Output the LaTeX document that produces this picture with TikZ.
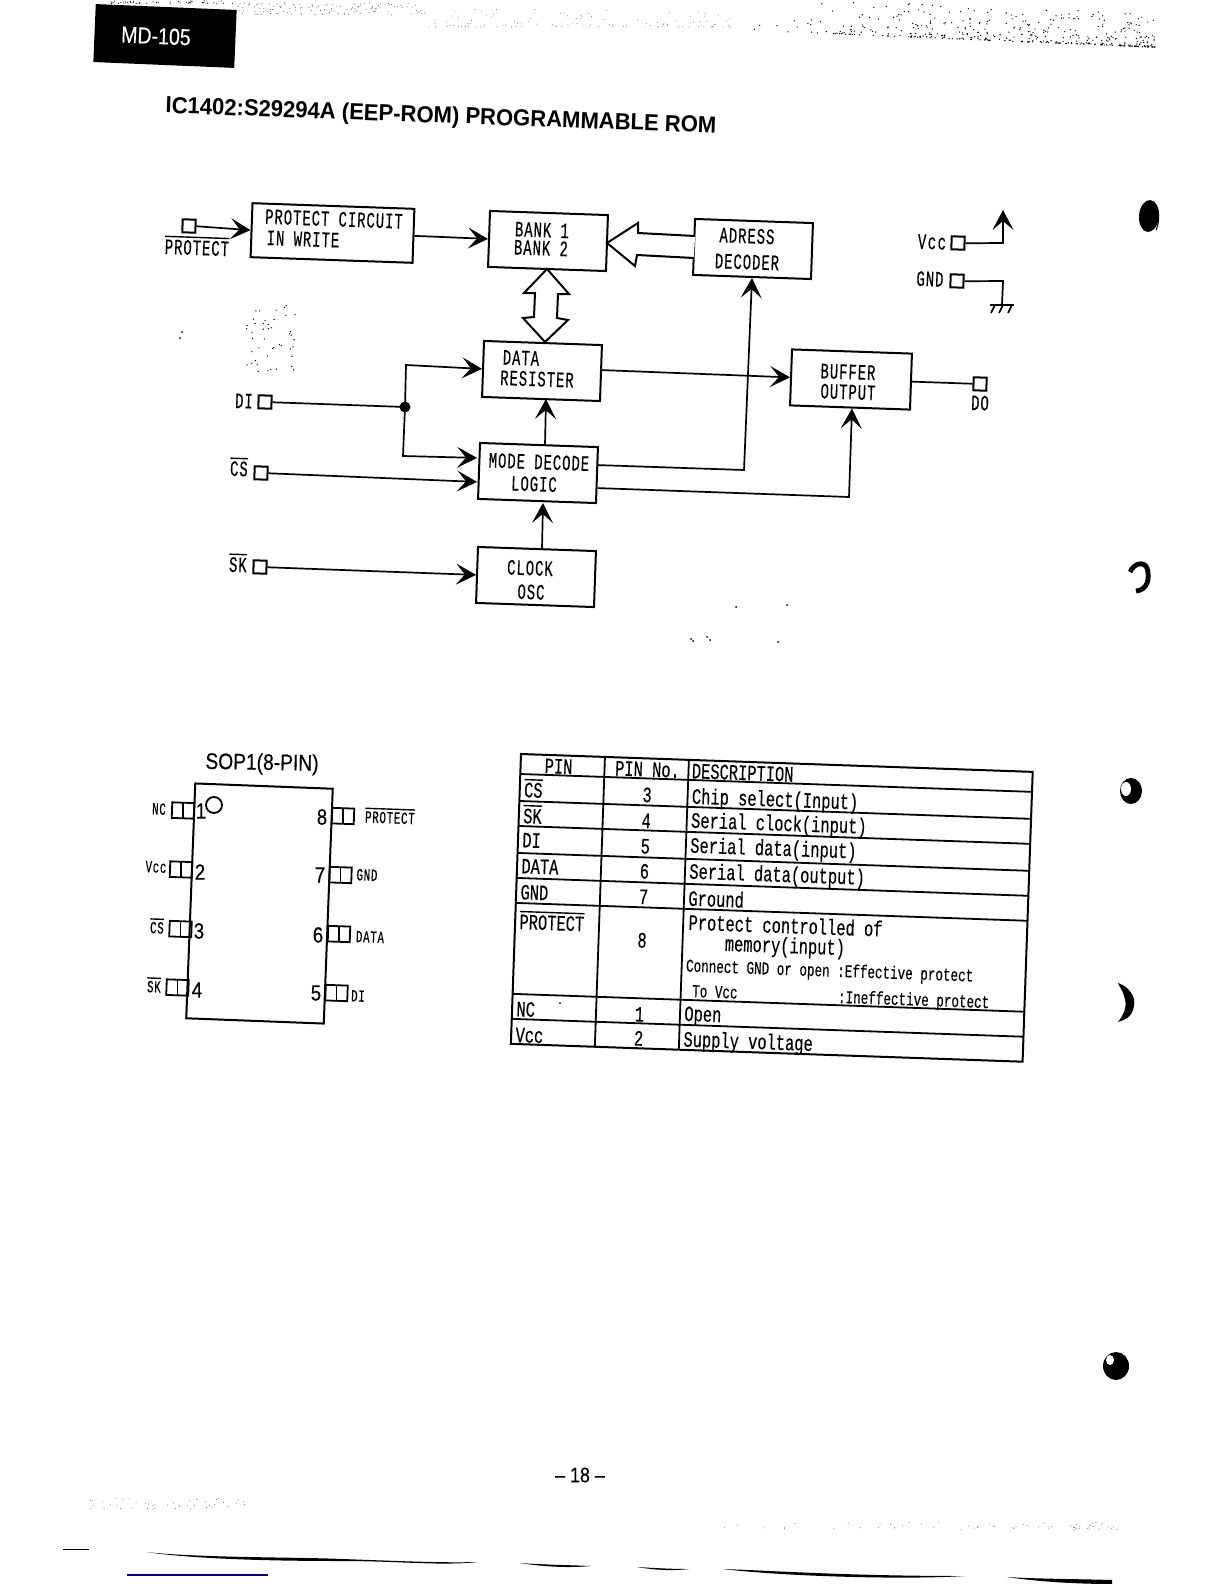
\documentclass[tikz,border=0pt]{standalone}
\usepackage{fontspec}
\usetikzlibrary{arrows.meta,calc}
\setmainfont{Liberation Sans}
\newfontfamily\mono[FakeStretch=0.7,FakeBold=0.25]{Liberation Mono}
\newfontfamily\monob[FakeStretch=0.63,LetterSpace=4.5,FakeBold=0.3]{Liberation Mono}
\newfontfamily\arialn[FakeStretch=0.85,FakeBold=0.35]{Liberation Sans}
\newfontfamily\arialb[FakeStretch=0.95]{Liberation Sans Bold}
\newcommand{\ovl}[1]{\vbox{\hrule height .7pt\kern 1.1pt\hbox{#1}}}
\tikzset{
  blockbox/.style={draw,line width=1pt,rotate=-2,minimum width=59pt,minimum height=28pt,inner sep=0pt},
  lbl/.style={font=\monob\fontsize{11}{12}\selectfont,inner sep=0pt,rotate=-2},
  smalllbl/.style={font=\monob\fontsize{8.5}{10}\selectfont,inner sep=0pt,rotate=-2},
  pinsq/.style={draw,line width=1pt,minimum size=6.5pt,inner sep=0pt,rotate=-2},
  ar/.style={-{Stealth[length=10pt,width=10.5pt,inset=4.5pt]},line width=.85pt},
  wire/.style={line width=.85pt},
  sopin/.style={draw,line width=.9pt,minimum width=11pt,minimum height=7.8pt,inner sep=0pt,rotate=-2,
    path picture={\draw[line width=.9pt] (path picture bounding box.north) -- (path picture bounding box.south);}},
  sonum/.style={font=\arialn\fontsize{11}{12}\selectfont,inner sep=0pt},
  tt/.style={font=\mono\fontsize{11}{12}\selectfont,inner sep=0pt,transform shape},
  tts/.style={font=\mono\fontsize{9}{10}\selectfont,inner sep=0pt,transform shape},
  grid/.style={line width=.9pt},
  streak/.style={fill=black,draw=none},
}
\begin{document}
\begin{tikzpicture}[x=0.5pt,y=-0.5pt]
\path[use as bounding box,fill=white] (0,0) rectangle (1224,1584);

% header
\node[fill=black,rotate=-2.4,minimum width=70.5pt,minimum height=29pt,inner sep=0pt] (tab) at (165,36) {};
\node[text=white,font=\arialn\fontsize{11.5}{12}\selectfont,rotate=-2.4,inner sep=0pt] (tabtxt) at (156,36) {MD-105};
\node[font=\arialb\fontsize{11.6}{13}\selectfont,rotate=-2.1,inner sep=0pt] (title) at (441,117) {IC1402:S29294A (EEP-ROM) PROGRAMMABLE ROM};

% blocks
\node[blockbox,minimum width=81pt,minimum height=27pt] (prot) at (332.5,233) {};
\node[blockbox] (bank) at (548,241) {};
\node[blockbox] (data) at (542,371) {};
\node[blockbox] (mode) at (538,473) {};
\node[blockbox] (clock) at (536,577) {};
\node[blockbox] (addr) at (753,249) {};
\node[blockbox,minimum width=60pt] (buf) at (851,379.5) {};

\node[lbl] (t1) at (334,219) {PROTECT CIRCUIT};
\node[lbl] (t2) at (303,239) {IN WRITE};
\node[lbl] (t3) at (542,230) {BANK 1};
\node[lbl] (t4) at (541,248) {BANK 2};
\node[lbl] (t5) at (521,358) {DATA};
\node[lbl] (t6) at (537,379) {RESISTER};
\node[lbl] (t7) at (539,462) {MODE DECODE};
\node[lbl] (t8) at (534,484) {LOGIC};
\node[lbl] (t9) at (530,568) {CLOCK};
\node[lbl] (t10) at (531,592) {OSC};
\node[lbl] (t11) at (747,236) {ADRESS};
\node[lbl] (t12) at (747,262) {DECODER};
\node[lbl] (t13) at (848,372) {BUFFER};
\node[lbl] (t14) at (848,392) {OUTPUT};

% pins
\node[pinsq] (pprot) at (189,226) {};
\node[pinsq] (pdi) at (265,402) {};
\node[pinsq] (pcs) at (261,473) {};
\node[pinsq] (psk) at (260,567) {};
\node[pinsq] (pvcc) at (958,243) {};
\node[pinsq] (pgnd) at (957,281) {};
\node[pinsq] (pdo) at (980,384) {};
\node[lbl] (lprot) at (197,246) {\ovl{PROTECT}};
\node[lbl] (ldi) at (244,401) {DI};
\node[lbl] (lcs) at (239,467) {\ovl{CS}};
\node[lbl] (lsk) at (238,563) {\ovl{SK}};
\node[lbl] (lvcc) at (932,242) {V\kern.8pt c\kern.8pt c};
\node[lbl] (lgnd) at (930,279) {GND};
\node[lbl] (ldo) at (980,403) {DO};

% connectors
\draw[ar] (pprot.east) -- (prot.west);
\draw[ar] (prot.east) -- (bank.west);
\fill (405,407) circle[radius=5.5] coordinate (dot);
\coordinate (dup) at (406,365);
\coordinate (ddn) at (403,456);
\draw[wire] (pdi.east) -- (dot);
\draw[ar] (dot) -- (dup) -- (data.west);
\draw[ar] (dot) -- (ddn) -- ($(mode.west)+(-1,-13)$);
\draw[ar] (pcs.east) -- ($(mode.west)+(-1,11)$);
\draw[ar] (psk.east) -- (clock.west);
\draw[ar] ($(clock.north)+(5,0)$) -- ($(mode.south)+(6,1)$);
\draw[ar] ($(mode.north)+(6,0)$) -- ($(data.south)+(5,-1)$);
\draw[ar] ($(data.east)+(0,-3)$) -- (buf.west);
\coordinate (ca) at (744,470);
\coordinate (cb) at (849,497);
\draw[ar] ($(mode.east)+(0,-10)$) -- (ca) -- (addr.south);
\draw[ar] ($(mode.east)+(0,13)$) -- (cb) -- ($(buf.south)+(2,0)$);
\draw[wire] (buf.east) -- (pdo.west);
\coordinate (vc) at (1003,243);
\coordinate (vt) at (1003,210);
\draw[ar] (pvcc.east) -- (vc) -- (vt);
\coordinate (gc) at (1003,281);
\coordinate (gb) at (1002,305);
\draw[wire] (pgnd.east) -- (gc) -- (gb);
\draw[line width=1pt] (990,305) -- (1014,305);
\draw[line width=.8pt] (995,305) -- (991,313) (1003,305) -- (999,313) (1012,305) -- (1008,313);

% hollow bus arrows
\draw[line width=1pt,fill=white,line join=miter] (547,269) -- (569,294) -- (558,294) -- (557,318) -- (568,320) -- (545,342) -- (523,318) -- (534,317) -- (535,293) -- (524,293) -- cycle;
\draw[line width=1pt,fill=white] (695,236) -- (638,233) -- (638,223) -- (607,243) -- (635,266) -- (637,255) -- (694,258);

% SOP
\node[font=\arialn\fontsize{11.3}{12}\selectfont,rotate=-1,inner sep=0pt] (soptitle) at (262,764) {SOP1(8-PIN)};
\node[draw,line width=1pt,rotate=-2.2,minimum width=68.8pt,minimum height=117.5pt,inner sep=0pt] (sop) at (259.5,903.5) {};
\draw[line width=.9pt] (214,805) circle[radius=8];
\node[sopin] (s1) at (183,810.5) {};
\node[sopin] (s2) at (181,869.5) {};
\node[sopin] (s3) at (180.5,929) {};
\node[sopin] (s4) at (177.5,987.5) {};
\node[sopin] (s8) at (343,816) {};
\node[sopin] (s7) at (340.5,875) {};
\node[sopin] (s6) at (339,934) {};
\node[sopin] (s5) at (336.5,993) {};
\node[sonum] (n1) at (201,811) {1};
\node[sonum] (n2) at (200,872) {2};
\node[sonum] (n3) at (199,931) {3};
\node[sonum] (n4) at (197,990) {4};
\node[sonum] (n8) at (322,817) {8};
\node[sonum] (n7) at (320,875) {7};
\node[sonum] (n6) at (318,935) {6};
\node[sonum] (n5) at (316,993) {5};
\node[smalllbl] (sl1) at (159,809) {NC};
\node[smalllbl] (sl2) at (156,867) {Vcc};
\node[smalllbl] (sl3) at (157,926) {\ovl{CS}};
\node[smalllbl] (sl4) at (154,985) {\ovl{SK}};
\node[smalllbl] (sl8) at (390,816) {\ovl{PROTECT}};
\node[smalllbl] (sl7) at (367,875) {GND};
\node[smalllbl] (sl6) at (370,937) {DATA};
\node[smalllbl] (sl5) at (358,996) {DI};

% table
\begin{scope}[shift={(521,754)},rotate=-2]
\draw[grid,line width=1pt] (0,0) rectangle (512,290);
\draw[grid] (84,0) -- (84,290) (168,0) -- (168,290);
\foreach \r in {20,47,72,99,124,149,240,265} \draw[grid] (0,\r) -- (512,\r);
\node[tt] (h1) at (38,11) {PIN};
\node[tt] (h2) at (127,11) {PIN No.};
\node[tt,anchor=west] (h3) at (171,11) {DESCRIPTION};
\node[tt,anchor=west] (a1) at (4,34) {\ovl{CS}};
\node[tt,anchor=west] (a2) at (4,60) {\ovl{SK}};
\node[tt,anchor=west] (a3) at (4,86) {DI};
\node[tt,anchor=west] (a4) at (4,112) {DATA};
\node[tt,anchor=west] (a5) at (4,138) {GND};
\node[tt,anchor=west] (a6) at (4,166) {\ovl{PROTECT}};
\node[tt,anchor=west] (a7) at (4,255) {NC};
\node[tt,anchor=west] (a8) at (4,281) {Vcc};
\node[tt] (b1) at (127.5,36.5) {3};
\node[tt] (b2) at (127.5,62.5) {4};
\node[tt] (b3) at (127.5,88) {5};
\node[tt] (b4) at (127.5,113) {6};
\node[tt] (b5) at (127.5,138.5) {7};
\node[tt] (b6) at (127.5,182) {8};
\node[tt] (b7) at (127.5,256) {1};
\node[tt] (b8) at (127.5,280) {2};
\node[tt,anchor=west] (c1) at (172,38) {Chip select(Input)};
\node[tt,anchor=west] (c2) at (172,62) {Serial clock(input)};
\node[tt,anchor=west] (c3) at (172,87) {Serial data(input)};
\node[tt,anchor=west] (c4) at (172,113) {Serial data(output)};
\node[tt,anchor=west] (c5) at (172,138) {Ground};
\node[tt,anchor=west] (c6) at (173,162) {Protect controlled of};
\node[tt,anchor=west] (c6b) at (210,184) {memory(input)};
\node[tts,anchor=west] (c6c) at (172,207) {Connect GND or open :Effective protect};
\node[tts,anchor=west] (c6d) at (179,231) {To Vcc};
\node[tts,anchor=west] (c6e) at (325,233) {:Ineffective protect};
\node[tt,anchor=west] (c7) at (172,256) {Open};
\node[tt,anchor=west] (c8) at (172,281) {Supply voltage};
\end{scope}

\node[font=\arialn\fontsize{10.5}{11}\selectfont,inner sep=0pt] (pageno) at (580,1475) {– 18 –};

% punch-hole blobs
\fill[rotate around={-5:(1149,216)}] (1149,216) ellipse[x radius=10,y radius=16];
\draw[line width=.5pt] (1152,203) .. controls (1160,208) and (1160,222) .. (1156,230);
\draw[line width=2.4pt] (1130,572) .. controls (1134,563) and (1144,561) .. (1147,568) .. controls (1150,578) and (1148,590) .. (1136,591);
\fill (1131,791) ellipse[x radius=11,y radius=13];
\fill[white] (1126,789) ellipse[x radius=5,y radius=7];
\fill (1118,983) .. controls (1128,986) and (1136,996) .. (1134,1006) .. controls (1132,1018) and (1124,1020) .. (1118,1022) .. controls (1124,1014) and (1128,1006) .. (1124,996) .. controls (1123,991) and (1120,988) .. (1118,983) -- cycle;
\fill (1116,1366) ellipse[x radius=13,y radius=14];
\fill[white] (1110,1360) ellipse[x radius=4,y radius=5];

% bottom streaks
\fill[streak] (146,1552) .. controls (200,1558) and (300,1557) .. (342,1559) .. controls (400,1561) and (440,1563) .. (478,1562) .. controls (440,1566) and (400,1561) .. (342,1561) .. controls (290,1561) and (200,1560) .. (146,1552) -- cycle;
\fill[streak] (520,1563) .. controls (550,1565) and (570,1565) .. (591,1566) .. controls (570,1568) and (545,1567) .. (520,1563) -- cycle;
\fill[streak] (637,1567) .. controls (655,1568) and (670,1569) .. (690,1569) .. controls (670,1571) and (655,1570) .. (637,1567) -- cycle;
\fill[streak] (723,1569) .. controls (780,1571) and (850,1576) .. (965,1576) .. controls (900,1580) and (780,1576) .. (723,1569) -- cycle;
\fill[streak] (1007,1577) .. controls (1040,1579) and (1080,1579) .. (1112,1580) -- (1112,1584) .. controls (1080,1584) and (1040,1582) .. (1007,1577) -- cycle;
\draw[line width=.5pt] (63,1549) -- (89,1549);
\draw[line width=.8pt,color=blue!50!black] (127,1575) -- (268,1575);

% print dust
\pgfmathsetseed{4242}
\foreach \i in {1,...,420}{
  \pgfmathsetmacro{\px}{745+410*rnd^0.5}
  \pgfmathsetmacro{\py}{30+(\px-745)*0.042-34*rnd^3}
  \fill (\px,\py) circle[radius=0.7];
}
\foreach \i in {1,...,130}{
  \pgfmathsetmacro{\px}{236+190*rnd}
  \pgfmathsetmacro{\py}{3+12*rnd}
  \fill[black!70] (\px,\py) circle[radius=0.5];
}
\foreach \i in {1,...,120}{
  \pgfmathsetmacro{\px}{420+320*rnd}
  \pgfmathsetmacro{\py}{27-18*rnd^3}
  \fill[black!55] (\px,\py) circle[radius=0.5];
}
\foreach \i in {1,...,40}{
  \pgfmathsetmacro{\px}{110+125*rnd}
  \pgfmathsetmacro{\py}{1+3*rnd}
  \fill (\px,\py) circle[radius=0.6];
}
\foreach \i in {1,...,45}{
  \pgfmathsetmacro{\px}{245+52*rnd}
  \pgfmathsetmacro{\py}{300+72*rnd}
  \fill (\px,\py) circle[radius=0.7];
}
\foreach \i in {1,...,45}{
  \pgfmathsetmacro{\px}{90+160*rnd}
  \pgfmathsetmacro{\py}{1498+12*rnd}
  \fill[black!60] (\px,\py) circle[radius=0.5];
}
\foreach \i in {1,...,60}{
  \pgfmathsetmacro{\px}{640+480*rnd^0.4}
  \pgfmathsetmacro{\py}{1522+8*rnd}
  \fill[black!60] (\px,\py) circle[radius=0.5];
}
\foreach \p in {(736,607),(787,605),(778,642),(691,639),(693,641),(707,637),(710,640),(182,332),(180,338),(560,1003)}
  \fill \p circle[radius=1];
\end{tikzpicture}
\end{document}
